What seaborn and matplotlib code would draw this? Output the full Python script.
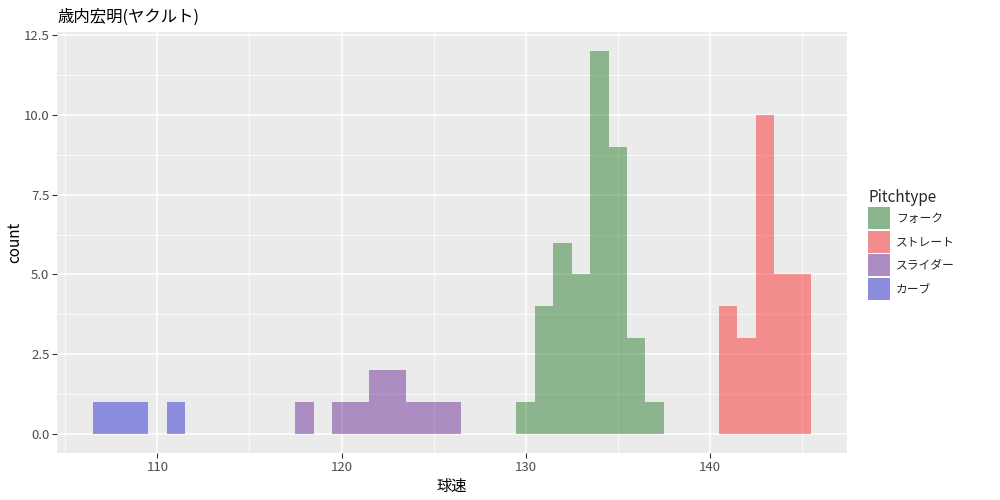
import numpy as np
import pandas as pd
import matplotlib
matplotlib.use("Agg")
import matplotlib.pyplot as plt
import matplotlib.colors as mcolors
from matplotlib.patches import Patch
import seaborn as sns

# ---- data (bin centres, counts per 1 km/h bin) ----
fork_speed = [130, 131, 132, 133, 134, 135, 136, 137]
fork_count = [1, 4, 6, 5, 12, 9, 3, 1]
straight_speed = [141, 142, 143, 144, 145]
straight_count = [4, 3, 10, 5, 5]
slider_speed = [118, 120, 121, 122, 123, 124, 125, 126]
slider_count = [1, 1, 1, 2, 2, 1, 1, 1]
curve_speed = [107, 108, 109, 111]
curve_count = [1, 1, 1, 1]

pitch_types = ["フォーク", "ストレート", "スライダー", "カーブ"]
title_text = "歳内宏明(ヤクルト)"
x_label = "球速"
y_label = "count"
legend_title = "Pitchtype"
x_ticks = [110, 120, 130, 140]
y_ticks = [0, 2.5, 5.0, 7.5, 10.0, 12.5]
y_tick_labels = ["0.0", "2.5", "5.0", "7.5", "10.0", "12.5"]

df = pd.concat([
    pd.DataFrame({"speed": fork_speed, "count": fork_count, "pitch": pitch_types[0]}),
    pd.DataFrame({"speed": straight_speed, "count": straight_count, "pitch": pitch_types[1]}),
    pd.DataFrame({"speed": slider_speed, "count": slider_count, "pitch": pitch_types[2]}),
    pd.DataFrame({"speed": curve_speed, "count": curve_count, "pitch": pitch_types[3]}),
], ignore_index=True)

base_colors = ["#006400", "#FF0000", "#4B0082", "#0000CD"]
alpha = 0.4
bg = "#EBEBEB"

sns.set_theme(style="darkgrid")
plt.rcParams["font.family"] = ["Noto Sans CJK JP", "DejaVu Sans"]

fig = plt.figure(figsize=(10, 5), dpi=100)
ax = fig.add_axes([0.057, 0.094, 0.79, 0.842])
ax.set_facecolor(bg)

sns.histplot(data=df, x="speed", weights="count", hue="pitch",
             hue_order=pitch_types, palette=base_colors,
             binwidth=1, binrange=(106.5, 145.5), multiple="stack",
             alpha=alpha, linewidth=0, element="bars", legend=False, ax=ax,
             zorder=3)

ax.set_xlim(104.55, 147.45)
ax.set_ylim(-0.6, 12.6)
ax.set_xticks(x_ticks)
ax.set_xticks([105, 115, 125, 135, 145], minor=True)
ax.set_yticks(y_ticks)
ax.set_yticklabels(y_tick_labels)
ax.set_yticks([1.25, 3.75, 6.25, 8.75, 11.25], minor=True)
ax.grid(which="major", color="white", linewidth=1.1, zorder=0)
ax.grid(which="minor", color="white", linewidth=0.55, zorder=0)
ax.set_axisbelow(True)
for s in ax.spines.values():
    s.set_visible(False)
ax.tick_params(axis="both", which="major", length=3.5, width=0.8, color="#333333",
               labelsize=9.5, labelcolor="#4D4D4D", pad=2, bottom=True, left=True)
ax.tick_params(axis="both", which="minor", length=0)
ax.set_xlabel(x_label, fontsize=11, color="black", labelpad=3)
ax.set_ylabel(y_label, fontsize=11, color="black", labelpad=0)
ax.set_title(title_text, loc="left", fontsize=11.8, color="black", pad=7.5)

def blend(c):
    r = np.array(mcolors.to_rgb(c))
    b = np.array(mcolors.to_rgb(bg))
    return tuple(alpha * r + (1 - alpha) * b)

handles = [Patch(facecolor=blend(c), edgecolor="none") for c in base_colors]
leg = fig.legend(handles, pitch_types, title=legend_title, loc="upper left",
                 bbox_to_anchor=(0.868, 0.622), frameon=False, fontsize=8.5,
                 title_fontsize=11, handlelength=1.86, handleheight=2.49,
                 labelspacing=0.12, handletextpad=0.5, borderpad=0, borderaxespad=0)
leg._legend_box.align = "left"

fig.savefig("out.png", dpi=100, facecolor="white")
